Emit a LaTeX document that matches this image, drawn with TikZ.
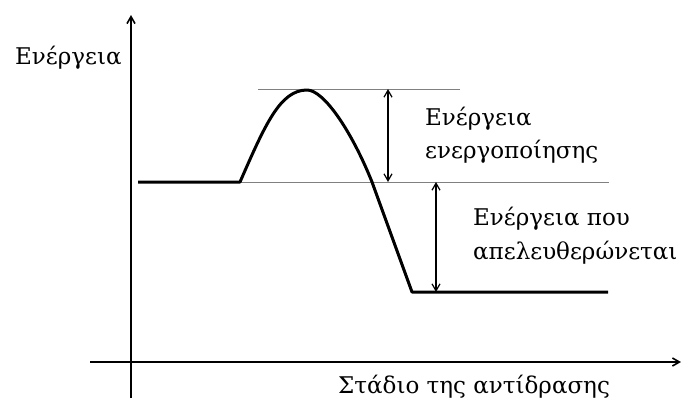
\documentclass[tikz,border=0pt]{standalone}
\usepackage{fontspec}
\setmainfont{DejaVu Serif}
\usetikzlibrary{arrows.meta}
\begin{document}
\begin{tikzpicture}[x=1pt,y=-1pt,
  lbl/.style={anchor=base west,inner sep=0pt,font=\fontsize{23}{27}\selectfont},
  axis/.style={line width=1.6pt,-{Straight Barb[length=7pt,width=8pt]}},
  dim/.style={line width=1.2pt,{Straight Barb[length=7pt,width=8pt]}-{Straight Barb[length=7pt,width=8pt]}},
  guide/.style={draw=gray,line width=0.8pt},
  level/.style={line width=3pt,line join=round}]
\useasboundingbox (0,0) rectangle (682,400);
% coordinates
\coordinate (yb) at (131,398);
\coordinate (yt) at (131,15);
\coordinate (xl) at (90,362);
\coordinate (xr) at (681,362);
\coordinate (r0) at (138,182);
\coordinate (r1) at (240,182);
\coordinate (pk) at (307,90);
\coordinate (c1) at (372,182);
\coordinate (p0) at (412,292);
\coordinate (p1) at (608,292);
\coordinate (g1a) at (258,89);
\coordinate (g1b) at (460,89);
\coordinate (g2a) at (240,182);
\coordinate (g2b) at (609,182);
\coordinate (a1t) at (388,89);
\coordinate (a1b) at (388,182);
\coordinate (a2t) at (436,182);
\coordinate (a2b) at (436,292);
% guides
\draw[guide] (g1a) -- (g1b);
\draw[guide] (g2a) -- (g2b);
% axes
\draw[axis] (yb) -- (yt);
\draw[axis] (xl) -- (xr);
% energy profile
\draw[level] (r0) -- (r1) .. controls (265,125) and (280,90) .. (pk)
  .. controls (324,90) and (352,132) .. (c1) -- (p0) -- (p1);
% dimension arrows
\draw[dim] (a1t) -- (a1b);
\draw[dim] (a2t) -- (a2b);
% labels
\node[lbl] (ey) at (15,64) {Ενέργεια};
\node[lbl] (ea1) at (425,125) {Ενέργεια};
\node[lbl] (ea2) at (425,158) {ενεργοποίησης};
\node[lbl] (er1) at (473,225) {Ενέργεια που};
\node[lbl] (er2) at (473,259) {απελευθερώνεται};
\node[lbl] (ex) at (338,393) {Στάδιο της αντίδρασης};
\end{tikzpicture}
\end{document}
